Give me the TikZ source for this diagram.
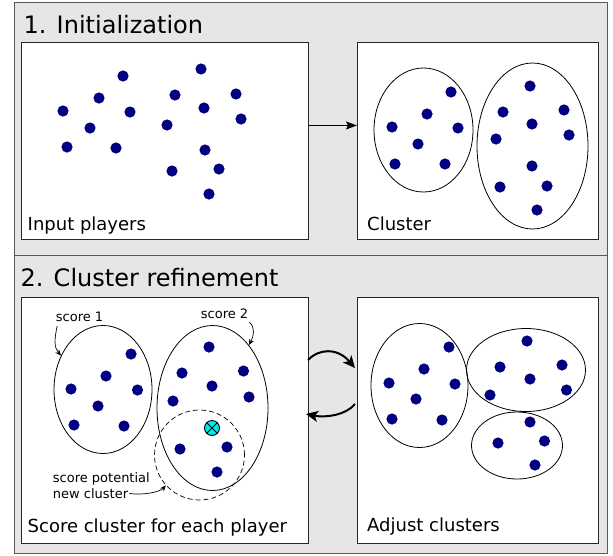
\documentclass[tikz,border=0pt]{standalone}
\usepackage{fontspec}
\setmainfont{DejaVu Sans}
\usetikzlibrary{shapes.geometric,arrows.meta}

\definecolor{dotblue}{RGB}{0,0,128}
\definecolor{panelgray}{RGB}{230,230,230}
\definecolor{pickcyan}{RGB}{0,235,235}

\newcommand{\fsz}[1]{\fontsize{#1}{#1}\selectfont}

\tikzset{
  panel/.style={draw=black!65, fill=panelgray, line width=1pt},
  box/.style={draw=black!85, fill=white, line width=0.9pt},
  clu/.style={draw, ellipse, line width=0.8pt, inner sep=0pt},
  lbl/.style={anchor=base west, inner sep=0pt},
  note/.style={-{Stealth[length=6pt,width=5pt]}, line width=0.7pt},
  swap/.style={-{Stealth[length=12pt,width=11pt,inset=3pt]}, line width=2pt}
}

\begin{document}
\begin{tikzpicture}[x=1pt,y=-1pt]
  \useasboundingbox (0,0) rectangle (613,555);

  % panels
  \draw[panel] (14,2.5) rectangle (607,255);
  \draw[panel] (14,255) rectangle (607,553);
  \node[lbl, font=\fsz{24}] (t1) at (23.5,33) {1. Initialization};
  \node[lbl, font=\fsz{24}] (t2) at (20.5,286) {2. Cluster refinement};

  % step 1: input players
  \node[box, minimum width=287, minimum height=197, anchor=north west, inner sep=0pt] (inbox) at (21,42) {};
  \node[lbl, font=\fsz{18}] at (27.5,230) {Input players};
  \foreach \p in {(123,76),(201,69),(99,98),(175,95),(236,94),(63,111),(130,112),
                  (204,108),(241,119),(90,128),(167,125),(67,147),(116,148),
                  (205,150),(172,171),(219,169),(209,194)}
    \fill[dotblue] \p circle (5.6);

  % step 1: cluster
  \node[box, minimum width=241, minimum height=197, anchor=north west, inner sep=0pt] (clbox) at (357,42) {};
  \node[lbl, font=\fsz{18}] at (367,230) {Cluster};
  \node[clu, minimum width=99, minimum height=124] (ca) at (423.5,130) {};
  \node[clu, minimum width=111, minimum height=166] (cb) at (532.5,146) {};
  \foreach \p in {(451,92),(427,114),(392,127),(458,128),(418,144),(395,164),(445,164),
                  (530,86),(503,112),(564,110),(532,124),(496,139),(569,135),
                  (532,166),(500,187),(547,186),(537,210)}
    \fill[dotblue] \p circle (5.6);

  \draw[-{Stealth[length=11pt,width=8pt,inset=2pt]}, line width=1.4pt] ([yshift=15.5pt]inbox.east) -- ([yshift=15.5pt]clbox.west);

  % step 2: score
  \node[box, minimum width=287, minimum height=246, anchor=north west, inner sep=0pt] (scbox) at (21,297) {};
  \node[lbl, font=\fsz{18}] at (27.5,532.5) {Score cluster for each player};
  \node[clu, minimum width=98, minimum height=128] (e1) at (103,389.5) {};
  \node[clu, minimum width=111, minimum height=165] (e2) at (212.5,408) {};
  \node[circle, draw, dashed, dash pattern=on 5pt off 3pt, line width=0.7pt,
        minimum size=90, inner sep=0pt] (dc) at (199.5,455) {};
  \foreach \p in {(131,354),(106,376),(71,389),(137.5,390),(98,406),(74,425),(124,426),
                  (209,347),(182,373),(243.5,371),(212,386),(173,401),(249,397),
                  (180,449),(227,447),(217,472)}
    \fill[dotblue] \p circle (5.6);
  \node[circle, draw, fill=pickcyan, line width=0.9pt, minimum size=15, inner sep=0pt] (pick) at (212,428) {};
  \draw[line width=0.9pt] (pick.north west) -- (pick.south east)
                          (pick.north east) -- (pick.south west);

  \node[lbl, font=\fsz{13}] (s1) at (55.7,321) {score 1};
  \node[lbl, font=\fsz{13}] (s2) at (200.7,318.7) {score 2};
  \node[lbl, font=\fsz{13}] (sp) at (52.7,482.7) {score potential};
  \node[lbl, font=\fsz{13}] (nc) at (52.7,498.3) {new cluster};
  \draw[note] ([xshift=1.5pt,yshift=-4.5pt]s1.south west) .. controls +(-3,14) and +(-7,-8) .. (e1.141);
  \draw[note] ([xshift=1pt,yshift=-3pt]s2.south east) .. controls +(6,6) and +(5,-9) .. (e2.60);
  \draw[note] ([xshift=1pt]nc.east) .. controls +(12,2) and +(-6,7) .. (dc.222);

  % step 2: adjust
  \node[box, minimum width=241, minimum height=246, anchor=north west, inner sep=0pt] (adbox) at (357,297) {};
  \node[lbl, font=\fsz{18}] at (367,531.7) {Adjust clusters};
  \node[clu, minimum width=97, minimum height=124] (aa) at (419.5,385.5) {};
  \node[clu, minimum width=119, minimum height=83] (ab) at (526,370) {};
  \node[clu, minimum width=91, minimum height=67] (ac) at (517,445.5) {};
  \foreach \p in {(449,347),(424,369),(389,383),(455,384),(416,399),(392,419),(442,420),
                  (527,341),(500,367),(562,365),(530,379),(490,395),(566.5,390),
                  (530,422),(498,443),(544.5,441),(535,465)}
    \fill[dotblue] \p circle (5.6);

  % swap arrows
  \coordinate (fwdA) at (308,360);
  \coordinate (fwdB) at (355,368);
  \coordinate (backA) at (355,404);
  \coordinate (backB) at (306,414);
  \draw[swap] (fwdA) .. controls (318,349) and (337,347) .. (fwdB);
  \draw[swap] (backA) .. controls (346,415) and (326,418) .. (backB);
\end{tikzpicture}
\end{document}
